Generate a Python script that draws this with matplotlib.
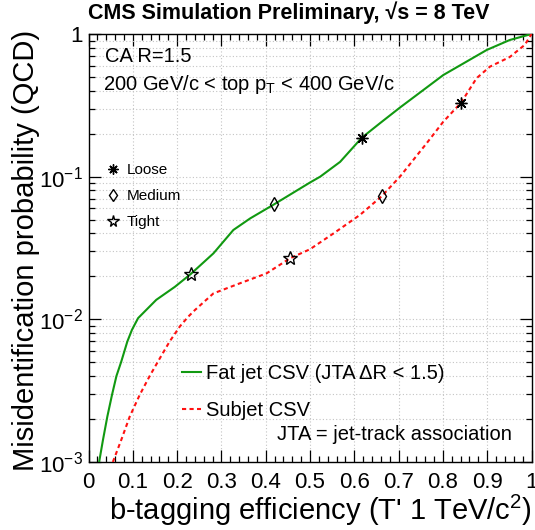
import matplotlib
matplotlib.use("Agg")
import matplotlib.pyplot as plt
from matplotlib.lines import Line2D
from matplotlib.ticker import FixedLocator, FixedFormatter, LogLocator, MultipleLocator, NullFormatter

plt.rcParams['font.family'] = ['Liberation Sans', 'DejaVu Sans']
plt.rcParams['mathtext.default'] = 'regular'

# ---- data ----
fat_eff = [0.024, 0.0327, 0.0425, 0.053, 0.063, 0.074, 0.0876, 0.098, 0.112, 0.153,
           0.195, 0.231, 0.282, 0.327, 0.365, 0.419, 0.50, 0.523, 0.568, 0.617,
           0.658, 0.703, 0.726, 0.801, 0.899, 0.951, 1.0]
fat_mis = [0.001, 0.00143, 0.00208, 0.00295, 0.0040, 0.00506, 0.00698, 0.00843, 0.0102, 0.0137,
           0.0169, 0.0208, 0.029, 0.0423, 0.051, 0.064, 0.091, 0.100, 0.127, 0.1876,
           0.237, 0.305, 0.345, 0.516, 0.773, 0.908, 1.0]

sub_eff = [0.055, 0.074, 0.093, 0.1155, 0.138, 0.161, 0.183, 0.206, 0.2246, 0.24,
           0.282, 0.342, 0.402, 0.455, 0.50, 0.553, 0.613, 0.662, 0.703, 0.763,
           0.801, 0.841, 0.876, 0.906, 0.951, 0.985, 1.0]
sub_mis = [0.001, 0.00143, 0.00208, 0.00295, 0.0040, 0.00533, 0.00698, 0.0089, 0.0104, 0.0116,
           0.0152, 0.0179, 0.021, 0.0268, 0.031, 0.040, 0.054, 0.073, 0.100, 0.171,
           0.243, 0.330, 0.49, 0.59, 0.69, 0.84, 1.0]

wp_names = ["Loose", "Medium", "Tight"]
fat_wp_eff = [0.617, 0.419, 0.231]
fat_wp_mis = [0.1876, 0.064, 0.0208]
sub_wp_eff = [0.841, 0.662, 0.455]
sub_wp_mis = [0.330, 0.073, 0.0268]

x_ticks = [0, 0.1, 0.2, 0.3, 0.4, 0.5, 0.6, 0.7, 0.8, 0.9, 1]
x_ticklabels = ["0", "0.1", "0.2", "0.3", "0.4", "0.5", "0.6", "0.7", "0.8", "0.9", "1"]
y_ticks = [1e-3, 1e-2, 1e-1, 1]
y_ticklabels = ["$10^{-3}$", "$10^{-2}$", "$10^{-1}$", "1"]

# ---- styles ----
GREEN = '#119911'
RED = '#ff1111'
DASH = (0, (2, 1.6))
wp_markers = {"Loose": dict(marker=(8, 2, 0), ms=8.5),
              "Medium": dict(marker='d', ms=7.5),
              "Tight": dict(marker='*', ms=10)}

W, H = 535, 530
fig = plt.figure(figsize=(W / 100, H / 100), dpi=100)
ax = fig.add_axes([88.5 / W, 1 - 462 / H, 443 / W, 428 / H])

def fx(px):
    return (px - 88.5) / 443

def fy(py):
    return (462 - py) / 428

ax.plot(fat_eff, fat_mis, color=GREEN, lw=1.5, zorder=3)
ax.plot(sub_eff, sub_mis, color=RED, lw=1.5, ls=DASH, zorder=3)

for i, name in enumerate(wp_names):
    st = wp_markers[name]
    for ex, my in ((fat_wp_eff[i], fat_wp_mis[i]), (sub_wp_eff[i], sub_wp_mis[i])):
        ax.plot([ex], [my], ls='none', marker=st['marker'], ms=st['ms'],
                mfc='none', mec='black', mew=1.0, zorder=4)

ax.set_yscale('log')
ax.set_xlim(0, 1)
ax.set_ylim(1e-3, 1)

ax.xaxis.set_major_locator(FixedLocator(x_ticks))
ax.xaxis.set_major_formatter(FixedFormatter(x_ticklabels))
ax.xaxis.set_minor_locator(MultipleLocator(0.02))
ax.yaxis.set_major_locator(FixedLocator(y_ticks))
ax.yaxis.set_major_formatter(FixedFormatter(y_ticklabels))
ax.yaxis.set_minor_locator(LogLocator(base=10, subs=range(2, 10)))
ax.yaxis.set_minor_formatter(NullFormatter())

ax.tick_params(which='both', direction='in', top=True, right=True, width=0.9, labelsize=16)
ax.tick_params(which='major', length=8.5)
ax.tick_params(which='minor', length=4.3)
ax.tick_params(axis='x', pad=7)
ax.tick_params(axis='y', pad=4)
for s in ax.spines.values():
    s.set_linewidth(1.0)

ax.grid(True, which='major', axis='x', color='#c4c4c4', ls=(0, (1, 2)), lw=0.8)
ax.grid(True, which='both', axis='y', color='#c4c4c4', ls=(0, (1, 2)), lw=0.8)

ax.text(1.0, fy(520), "b-tagging efficiency (T' 1 TeV/c$^{2}$)", transform=ax.transAxes,
        fontsize=21, ha='right', va='baseline')
fig.text(34 / W, 1 - 30 / H, "Misidentification probability (QCD)", fontsize=21,
         rotation=90, rotation_mode='anchor', ha='right', va='baseline')

fig.text(88.5 / W, 1 - 13 / H, "CMS Simulation Preliminary, \u221As = 8 TeV",
         fontsize=15.5, fontweight='bold', ha='left', va='center')
ax.text(fx(105), fy(57), "CA R=1.5", transform=ax.transAxes,
        fontsize=14.5, ha='left', va='center')
ax.text(fx(103), fy(84), "200 GeV/c < top p$_{T}$ < 400 GeV/c",
        transform=ax.transAxes, fontsize=14.5, ha='left', va='center')
ax.text(fx(277), fy(434), "JTA = jet-track association",
        transform=ax.transAxes, fontsize=14.5, ha='left', va='center')

# working point legend
wp_handles = [Line2D([], [], ls='none', marker=wp_markers[n]['marker'],
                     ms=wp_markers[n]['ms'] * 0.85, mfc='none', mec='black', mew=1.0)
              for n in wp_names]
leg1 = ax.legend(wp_handles, wp_names, loc='upper left',
                 bbox_to_anchor=(fx(105), fy(163)),
                 frameon=False, fontsize=11, handlelength=1.0, handletextpad=0.4,
                 labelspacing=0.8, borderpad=0, borderaxespad=0)
ax.add_artist(leg1)

line_handles = [Line2D([], [], color=GREEN, lw=1.5),
                Line2D([], [], color=RED, lw=1.5, ls=DASH)]
leg2 = ax.legend(line_handles, ["Fat jet CSV (JTA \u0394R < 1.5)", "Subjet CSV"],
                 loc='upper left', bbox_to_anchor=(fx(181.7), fy(364)),
                 frameon=False, fontsize=14.5, handlelength=0.95, handletextpad=0.25,
                 labelspacing=0.9, borderpad=0, borderaxespad=0)

fig.savefig("out.png", dpi=100)
